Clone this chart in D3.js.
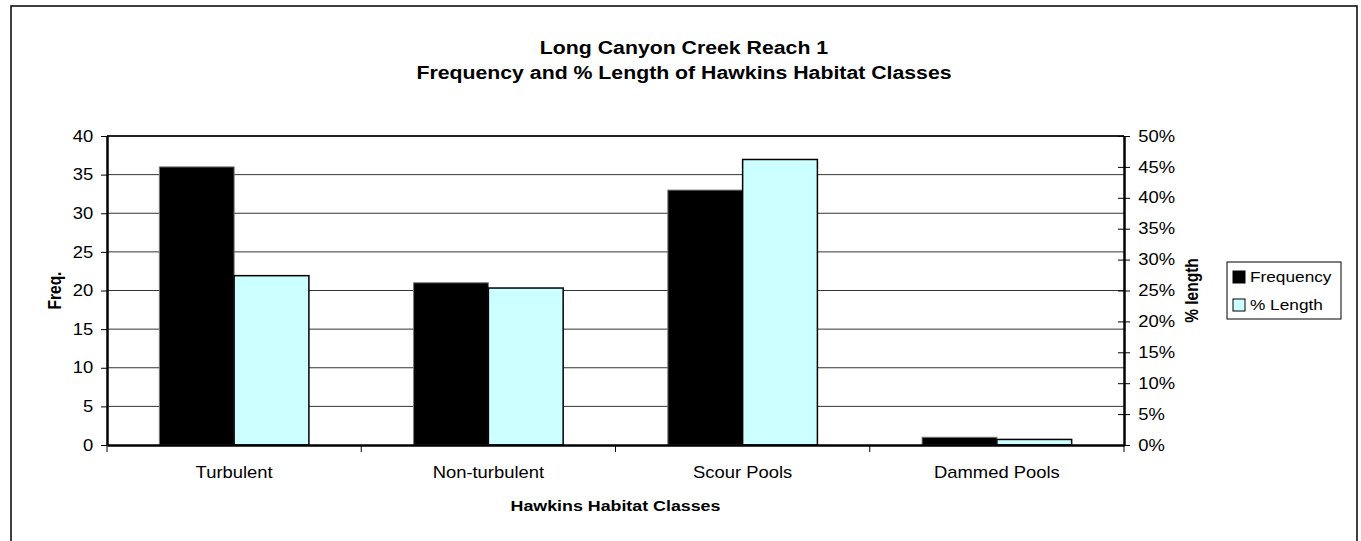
<!DOCTYPE html>
<html>
<head>
<meta charset="utf-8">
<script src="https://cdn.jsdelivr.net/npm/d3@7"></script>
<style>
  body { margin: 0; background: #fff; }
  text { font-family: "Liberation Sans", Arial, sans-serif; fill: #000; }
</style>
</head>
<body>
<div id="chart"></div>
<script>
// data
var categories = ["Turbulent", "Non-turbulent", "Scour Pools", "Dammed Pools"];
var frequency = [36, 21, 33, 1];
var pctLength = [0.274, 0.254, 0.462, 0.009];
var seriesNames = ["Frequency", "% Length"];
var seriesColors = ["#000000", "#ccffff"];
var freqTicks = [0, 5, 10, 15, 20, 25, 30, 35, 40];
var pctTicks = [0, 0.05, 0.1, 0.15, 0.2, 0.25, 0.3, 0.35, 0.4, 0.45, 0.5];

var svgWidth = 1361, svgHeight = 541;
var margin = { top: 136, left: 107, right: 237, bottom: 96 };
var width = svgWidth - margin.left - margin.right;
var height = svgHeight - margin.top - margin.bottom;
var sx = 1.15; // the reference text is a bit wide

var svg = d3.select("#chart").append("svg")
  .attr("width", svgWidth)
  .attr("height", svgHeight);

// outer chart border
svg.append("rect")
  .attr("x", 11).attr("y", 6)
  .attr("width", 1346).attr("height", 545)
  .attr("fill", "#fff").attr("stroke", "#000").attr("stroke-width", 1.5);

// titles
var titles = ["Long Canyon Creek Reach 1", "Frequency and % Length of Hawkins Habitat Classes"];
titles.forEach(function(t, i) {
  svg.append("text")
    .attr("transform", `translate(684, ${54 + i * 25}) scale(${sx},1)`)
    .attr("text-anchor", "middle")
    .attr("font-size", "18.5px")
    .attr("font-weight", "bold")
    .text(t);
});

var chartGroup = svg.append("g")
  .attr("transform", `translate(${margin.left}, ${margin.top})`);

// scales
var xScale = d3.scaleBand().domain(categories).range([0, width]).padding(0);
var xInner = d3.scaleBand().domain([0, 1]).range([0, xScale.bandwidth()])
  .paddingInner(0).paddingOuter(0.7);
var yLeft = d3.scaleLinear().domain([0, 40]).range([height, 0]);
var yRight = d3.scaleLinear().domain([0, 0.5]).range([height, 0]);

// gridlines
chartGroup.selectAll(".grid")
  .data(freqTicks.slice(1, -1))
  .enter()
  .append("line")
  .attr("x1", 0).attr("x2", width)
  .attr("y1", d => yLeft(d)).attr("y2", d => yLeft(d))
  .attr("stroke", "#333").attr("stroke-width", 1);

// bars
var rows = categories.map(function(c, i) {
  return [
    { cat: c, s: 0, y: yLeft(frequency[i]) },
    { cat: c, s: 1, y: yRight(pctLength[i]) }
  ];
});
var catGroups = chartGroup.selectAll(".cat")
  .data(rows)
  .enter()
  .append("g")
  .attr("transform", d => `translate(${xScale(d[0].cat)}, 0)`);

catGroups.selectAll("rect")
  .data(d => d)
  .enter()
  .append("rect")
  .attr("x", d => xInner(d.s))
  .attr("y", d => d.y)
  .attr("width", xInner.bandwidth())
  .attr("height", d => height - d.y)
  .attr("fill", d => seriesColors[d.s])
  .attr("stroke", d => d.s === 0 ? "#777" : "#000")
  .attr("stroke-width", d => d.s === 0 ? 1 : 1.5);

// plot border
chartGroup.append("line")
  .attr("x1", 0).attr("x2", width).attr("y1", 0).attr("y2", 0)
  .attr("stroke", "#222").attr("stroke-width", 2);

// axes
var leftAxis = d3.axisLeft(yLeft).tickValues(freqTicks).tickSizeInner(6).tickSizeOuter(0).tickPadding(6);
var rightAxis = d3.axisRight(yRight).tickValues(pctTicks).tickSizeInner(6).tickSizeOuter(0)
  .tickPadding(8).tickFormat(d3.format(".0%"));
var bottomAxis = d3.axisBottom(xScale).tickSize(0).tickPadding(22);

var gl = chartGroup.append("g").call(leftAxis);
var gr = chartGroup.append("g").attr("transform", `translate(${width}, 0)`).call(rightAxis);
var gb = chartGroup.append("g").attr("transform", `translate(0, ${height})`).call(bottomAxis);

[gl, gr, gb].forEach(function(g) {
  g.select(".domain").attr("stroke", "#000").attr("stroke-width", 2.5);
  g.selectAll("text")
    .attr("font-size", "16px")
    .attr("font-family", "Liberation Sans, Arial, sans-serif")
    .attr("fill", "#000");
});
gl.selectAll("text").attr("transform", `scale(${sx},1)`).attr("x", -12);
gr.selectAll("text").attr("transform", `scale(${sx},1)`).attr("x", 12.5);
gb.selectAll(".tick text").attr("transform", `scale(${sx},1)`);
gr.selectAll(".tick line").attr("x1", -6).attr("stroke", "#000");
gl.selectAll(".tick line").attr("stroke", "#000");

// category boundary ticks on the x axis
gb.selectAll(".bound")
  .data(d3.range(categories.length + 1))
  .enter()
  .append("line")
  .attr("x1", d => d * xScale.step()).attr("x2", d => d * xScale.step())
  .attr("y1", 0).attr("y2", 7)
  .attr("stroke", "#000").attr("stroke-width", 1);

// axis titles
svg.append("text")
  .attr("transform", `translate(${margin.left + width / 2}, 511) scale(${sx},1)`)
  .attr("text-anchor", "middle")
  .attr("font-size", "15.5px")
  .attr("font-weight", "bold")
  .text("Hawkins Habitat Classes");

svg.append("text")
  .attr("transform", `translate(61, ${margin.top + height / 2}) scale(${sx},1) rotate(-90)`)
  .attr("text-anchor", "middle")
  .attr("font-size", "15.5px")
  .attr("font-weight", "bold")
  .text("Freq.");

svg.append("text")
  .attr("transform", `translate(1198, ${margin.top + height / 2}) scale(${sx},1) rotate(-90)`)
  .attr("text-anchor", "middle")
  .attr("font-size", "15.5px")
  .attr("font-weight", "bold")
  .text("% length");

// legend
var legend = svg.append("g").attr("transform", "translate(1227, 262)");
legend.append("rect")
  .attr("width", 114).attr("height", 57)
  .attr("fill", "#fff").attr("stroke", "#000").attr("stroke-width", 1);
var items = legend.selectAll(".item")
  .data(seriesNames)
  .enter()
  .append("g")
  .attr("transform", (d, i) => `translate(6, ${9 + i * 28})`);
items.append("rect")
  .attr("width", 12).attr("height", 12)
  .attr("fill", (d, i) => seriesColors[i])
  .attr("stroke", "#000").attr("stroke-width", 1);
items.append("text")
  .attr("transform", `translate(17, 11) scale(${sx},1)`)
  .attr("font-size", "15px")
  .text(d => d);
</script>
</body>
</html>
